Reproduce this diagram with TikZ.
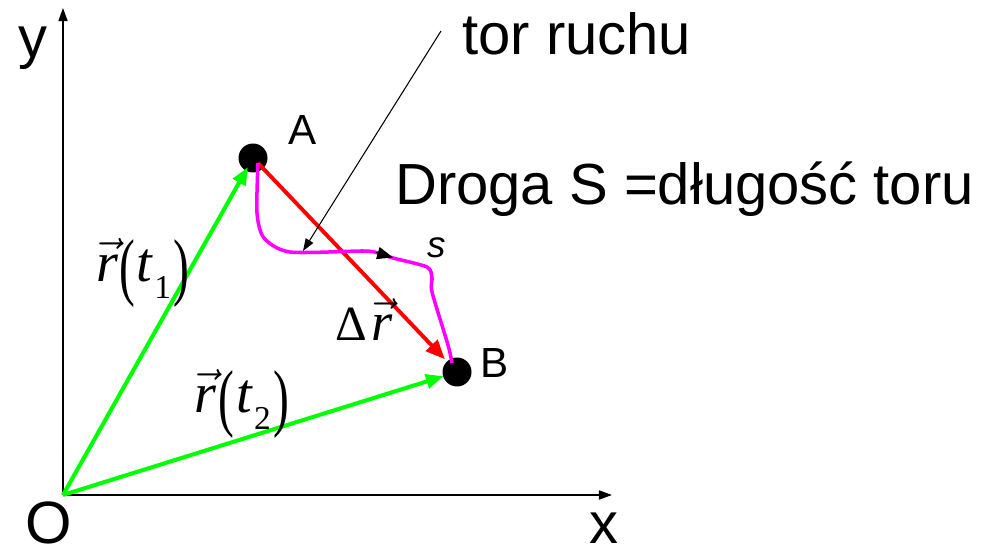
\RequirePackage{fix-cm}
\documentclass[tikz,border=0pt]{standalone}
\usepackage{fontspec}
\usepackage{graphicx}
\setmainfont{Liberation Sans}
\newfontfamily\tms{Liberation Serif}
\usetikzlibrary{arrows.meta}
\definecolor{vgreen}{RGB}{0,255,0}
\definecolor{vred}{RGB}{255,0,0}
\definecolor{vmag}{RGB}{255,0,255}
\newcommand{\myvr}{$\vec{\mbox{\tms\itshape r}}$}
\newcommand{\mylp}{\raisebox{-6pt}{\fontsize{30}{30}\selectfont\scalebox{0.9}[1.42]{(}}}
\newcommand{\myrp}{\raisebox{-6pt}{\fontsize{30}{30}\selectfont\scalebox{0.9}[1.42]{)}}}
\newcommand{\mysub}[1]{\raisebox{-10pt}{\fontsize{19}{19}\selectfont #1}}
\begin{document}
\begin{tikzpicture}[x=0.02cm,y=-0.02cm,
  big/.style={inner sep=0pt,font=\fontsize{33}{33}\selectfont},
  mid/.style={inner sep=0pt,font=\fontsize{24}{24}\selectfont},
  mth/.style={inner sep=0pt,font=\tms\fontsize{32}{32}\selectfont},
  dot/.style={circle,fill=black,minimum size=0.58cm,inner sep=0pt},
  axis/.style={line width=0.9pt,-{Triangle[length=7.5pt,width=5.2pt]}},
  gvec/.style={vgreen,line width=2.3pt,-{Triangle[length=10pt,width=8pt]}},
  rvec/.style={vred,line width=2.2pt,-{Triangle[length=11pt,width=9pt]}},
  path/.style={vmag,line width=2pt},
  lead/.style={black,line width=0.6pt,-{Triangle[length=7pt,width=5pt]}}]
\useasboundingbox (0,0) rectangle (994,547);
% axes
\coordinate (O) at (63,495);
\coordinate (ytip) at (63,8);
\coordinate (xtip) at (612,495);
\draw[axis] (O) -- (ytip);
\draw[axis] (O) -- (xtip);
\node[big,anchor=base] (ylab) at (33,58) {y};
\node[big,anchor=base] (xlab) at (604,543) {x};
\node[big,anchor=base,font=\fontsize{34}{34}\selectfont] (olab) at (49,543) {O};
% points
\node[dot] (A) at (253,158) {};
\node[dot] (B) at (457,372) {};
\node[mid,anchor=base] (alab) at (303,145) {A};
\node[mid,anchor=base] (blab) at (495,377) {B};
% vectors
\draw[gvec,shorten >=6pt] (O) -- (A.center);
\draw[gvec,shorten >=8pt] (O) -- (B.center);
\coordinate (As) at (258,163);
\coordinate (Be) at (452,363);
\draw[rvec,shorten >=10pt] (As) -- (B.center);
% trajectory
\draw[path] plot[smooth,tension=0.45] coordinates {(258,163) (257,213) (264,238) (290,252) (363,251) (378,253) (393,258) (427,267) (432,278) (432,292) (448,345) (452,363)};
\coordinate (sa) at (376,252.5);
\coordinate (sb) at (393,257.5);
\draw[black,line width=0.6pt,-{Triangle[length=9pt,width=7pt]}] (sa) -- (sb);
\node[inner sep=0pt,font=\itshape\fontsize{21}{21}\selectfont,anchor=base] (slab) at (437,257) {s};
% leader
\coordinate (ls) at (441,31);
\coordinate (lt) at (303,251);
\draw[lead] (ls) -- (lt);
\node[big,anchor=base west] (tor) at (462,55) {tor ruchu};
\node[big,anchor=base west] (droga) at (395,205) {Droga S =długość toru};
% vector labels
\node[mth,anchor=base west] (r1) at (96,281) {\myvr\kern0.8pt\mylp\kern0.8pt\textit{t}\kern0.5pt\mysub{1}\kern1.5pt\myrp};
\node[mth,anchor=base west] (r2) at (194,412) {\myvr\kern1.5pt\mylp\kern1pt\textit{t}\kern0.5pt\mysub{2}\kern1.5pt\myrp};
\node[mth,anchor=base west,font=\tms\fontsize{31}{31}\selectfont] (dr) at (335,340) {{\fontsize{28}{28}\selectfont Δ}\kern2.5pt\myvr};
\end{tikzpicture}
\end{document}
